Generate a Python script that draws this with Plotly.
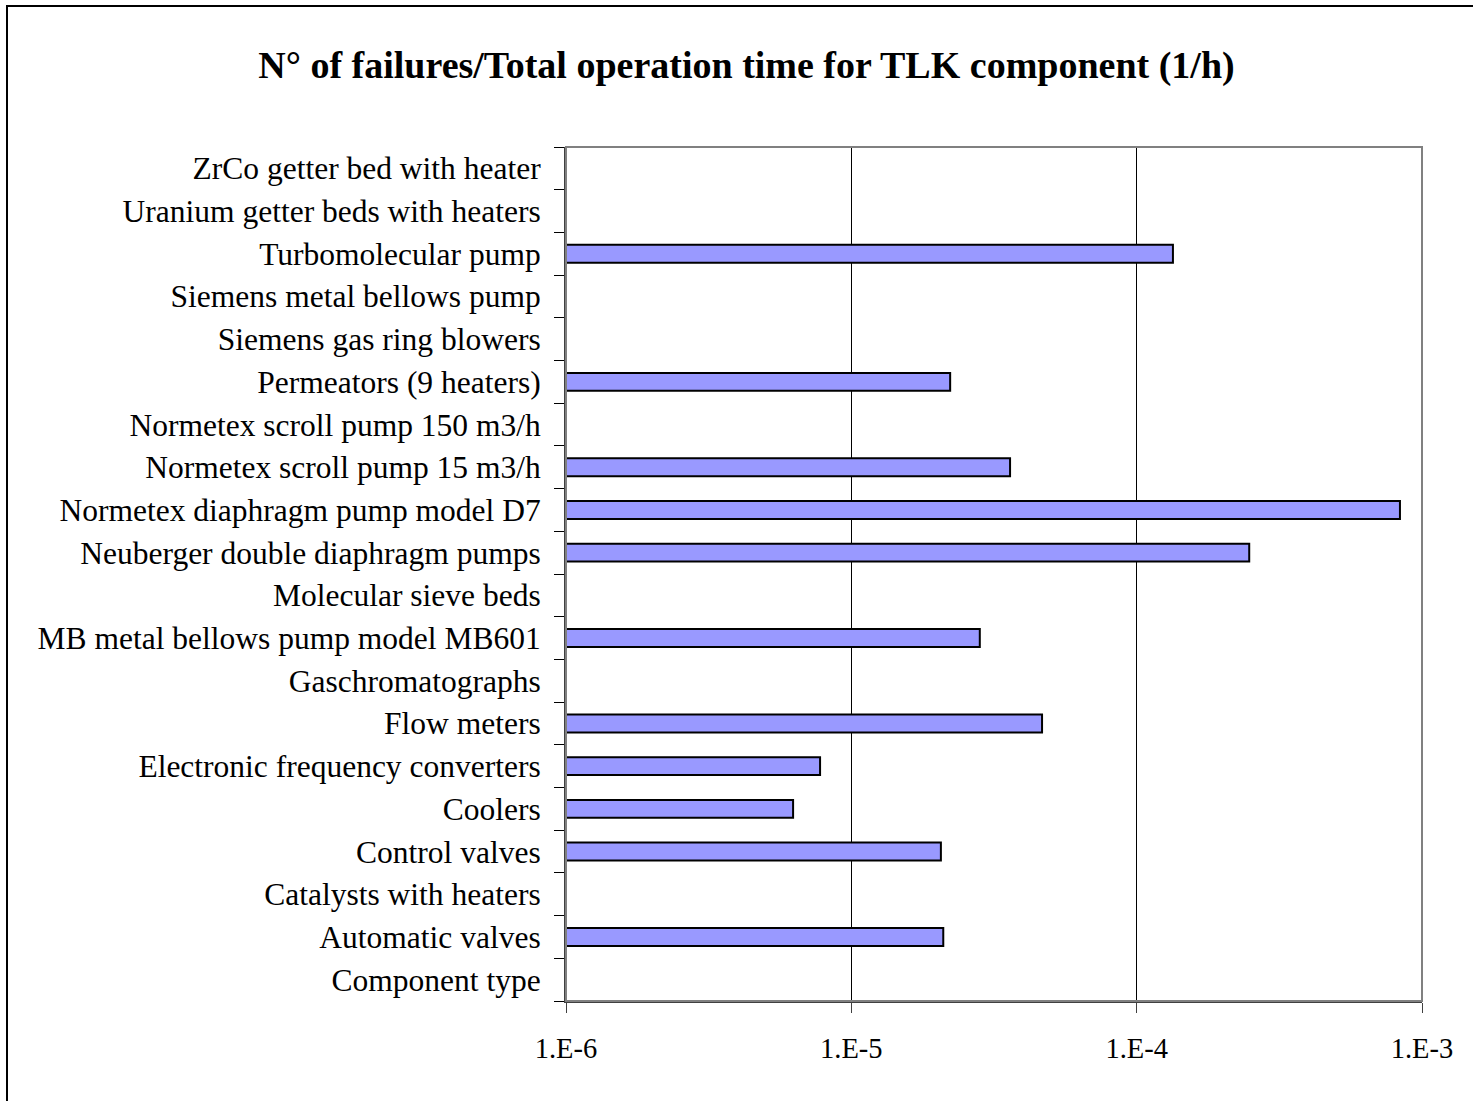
import plotly.graph_objects as go

# Component types, listed bottom to top as they appear on the category axis
components = [
    "Component type",
    "Automatic valves",
    "Catalysts with heaters",
    "Control valves",
    "Coolers",
    "Electronic frequency converters",
    "Flow meters",
    "Gaschromatographs",
    "MB metal bellows pump model MB601",
    "Molecular sieve beds",
    "Neuberger double diaphragm pumps",
    "Normetex diaphragm pump model D7",
    "Normetex scroll pump 15 m3/h",
    "Normetex scroll pump 150 m3/h",
    "Permeators (9 heaters)",
    "Siemens gas ring blowers",
    "Siemens metal bellows pump",
    "Turbomolecular pump",
    "Uranium getter beds with heaters",
    "ZrCo getter bed with heater",
]

# Failure rate (N° of failures / total operation time, 1/h); None = no failures recorded
failure_rate = [
    None,
    2.10e-5,
    None,
    2.06e-5,
    6.25e-6,
    7.77e-6,
    4.66e-5,
    None,
    2.82e-5,
    None,
    2.48e-4,
    8.37e-4,
    3.60e-5,
    None,
    2.22e-5,
    None,
    None,
    1.34e-4,
    None,
    None,
]

x_tick_vals = [1e-6, 1e-5, 1e-4, 1e-3]
x_tick_text = ["1.E-6", "1.E-5", "1.E-4", "1.E-3"]

SERIF = "Liberation Serif"

fig = go.Figure(
    go.Bar(
        x=failure_rate,
        y=components,
        orientation="h",
        marker=dict(color="#9999FF", line=dict(color="black", width=2)),
        width=0.42,
    )
)

W, H = 1473, 1101
L, R, T, B = 566, 51, 147, 100
pw, ph = W - L - R, H - T - B


def px_x(p):
    return (p - L) / pw


def px_y(p):
    return (H - B - p) / ph


shapes = [
    # outer chart frame (left and top edges visible)
    dict(type="rect", xref="paper", yref="paper",
         x0=px_x(7), x1=px_x(W + 10), y0=px_y(H + 10), y1=px_y(6),
         line=dict(color="black", width=2), fillcolor="rgba(0,0,0,0)", layer="below"),
    # plot area border
    dict(type="rect", xref="paper", yref="paper",
         x0=0, x1=1, y0=0, y1=1,
         line=dict(color="#808080", width=2), fillcolor="rgba(0,0,0,0)", layer="above"),
]

fig.update_layout(
    width=W,
    height=H,
    margin=dict(l=L, r=R, t=T, b=B, pad=0),
    paper_bgcolor="white",
    plot_bgcolor="white",
    showlegend=False,
    font=dict(family=SERIF, color="black"),
    title=dict(
        text="<b>N° of failures/Total operation time for TLK component (1/h)</b>",
        font=dict(family=SERIF, size=38, color="black"),
        x=746.5 / W,
        xanchor="center",
        y=1 - 65 / H,
        yanchor="middle",
    ),
    shapes=shapes,
)

fig.update_xaxes(
    type="log",
    range=[-6, -3],
    tickvals=x_tick_vals,
    ticktext=x_tick_text,
    showgrid=True,
    gridcolor="black",
    gridwidth=1,
    showline=True,
    linecolor="#404040",
    linewidth=2,
    ticks="outside",
    ticklen=10,
    tickcolor="#404040",
    tickwidth=1,
    ticklabelstandoff=11,
    tickfont=dict(family=SERIF, size=28.5, color="black"),
    zeroline=False,
)

fig.update_yaxes(
    type="category",
    categoryorder="array",
    categoryarray=components,
    tickson="boundaries",
    showgrid=False,
    showline=True,
    linecolor="#404040",
    linewidth=2,
    ticks="outside",
    ticklen=10,
    tickcolor="black",
    tickwidth=1,
    ticklabelstandoff=17,
    tickfont=dict(family=SERIF, size=31.5, color="black"),
    range=[-0.5, len(components) - 0.5],
)

fig.write_html("out.html")
